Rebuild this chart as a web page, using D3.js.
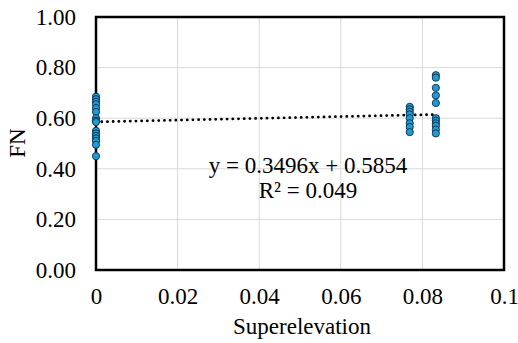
<!DOCTYPE html>
<html><head><meta charset="utf-8">
<script src="https://cdn.jsdelivr.net/npm/d3@7"></script>
<style>body{margin:0;background:#fff}svg{display:block}text{font-family:'Liberation Serif','Times New Roman',serif}</style>
</head><body>
<svg id="c" width="518" height="343"></svg>
<script>
const xGroups = [0, 0.0769, 0.0833];
const fn0 = [0.685, 0.675, 0.665, 0.655, 0.64, 0.625, 0.60, 0.59, 0.585, 0.55, 0.54, 0.53, 0.52, 0.51, 0.495, 0.45];
const fn1 = [0.645, 0.635, 0.625, 0.615, 0.60, 0.58, 0.565, 0.545];
const fn2 = [0.77, 0.76, 0.72, 0.69, 0.66, 0.60, 0.59, 0.58, 0.57, 0.555, 0.54];
const xTicks = [0, 0.02, 0.04, 0.06, 0.08, 0.1];
const xTickLabels = ["0", "0.02", "0.04", "0.06", "0.08", "0.1"];
const yTicks = [0, 0.2, 0.4, 0.6, 0.8, 1.0];
const yTickLabels = ["0.00", "0.20", "0.40", "0.60", "0.80", "1.00"];
const slope = 0.3496, intercept = 0.5854;
const eqText = "y = 0.3496x + 0.5854";
const r2Text = "R² = 0.049";

const svg = d3.select("#c");
const font = "'Liberation Serif','Times New Roman',serif";
const fs = 23;
const x = d3.scaleLinear().domain([0, 0.1]).range([96, 504]);
const y = d3.scaleLinear().domain([0, 1]).range([270, 17]);

// gridlines
svg.append("g").selectAll("line").data(yTicks.slice(1, -1)).join("line")
  .attr("x1", x(0)).attr("x2", x(0.1)).attr("y1", d => y(d)).attr("y2", d => y(d))
  .attr("stroke", "#d9d9d9").attr("stroke-width", 1);
svg.append("g").selectAll("line").data(xTicks.slice(1, -1)).join("line")
  .attr("y1", y(0)).attr("y2", y(1)).attr("x1", d => x(d)).attr("x2", d => x(d))
  .attr("stroke", "#d9d9d9").attr("stroke-width", 1);

// axes via d3
const yAxis = d3.axisLeft(y).tickValues(yTicks).tickFormat((d, i) => yTickLabels[i]).tickSize(0).tickPadding(20);
const gy = svg.append("g").attr("transform", `translate(${x(0)},0)`).call(yAxis)
  .attr("font-family", font).attr("font-size", fs);
gy.select(".domain").remove();
gy.selectAll("text").style("font-family", font).style("font-size", fs + "px").attr("fill", "#000");

const xAxis = d3.axisBottom(x).tickValues(xTicks).tickFormat((d, i) => xTickLabels[i]).tickSize(0).tickPadding(18);
const gx = svg.append("g").attr("transform", `translate(0,${y(0)})`).call(xAxis)
  .attr("font-family", font).attr("font-size", fs);
gx.select(".domain").remove();
gx.selectAll("text").style("font-family", font).style("font-size", fs + "px").attr("fill", "#000");

// border
svg.append("rect").attr("x", x(0)).attr("y", y(1)).attr("width", x(0.1) - x(0)).attr("height", y(0) - y(1))
  .attr("fill", "none").attr("stroke", "#000").attr("stroke-width", 2.5);

// trendline
const xMax = xGroups[2];
svg.append("line")
  .attr("x1", x(0)).attr("y1", y(intercept))
  .attr("x2", x(xMax)).attr("y2", y(slope * xMax + intercept))
  .attr("stroke", "#000").attr("stroke-width", 2.8)
  .attr("stroke-dasharray", "0.1 5.6").attr("stroke-linecap", "round");

// points
const pts = [];
[fn0, fn1, fn2].forEach((arr, i) => arr.forEach(v => pts.push({x: xGroups[i], y: v})));
svg.append("g").selectAll("circle").data(pts).join("circle")
  .attr("cx", d => x(d.x)).attr("cy", d => y(d.y)).attr("r", 3.6)
  .attr("fill", "#1e9ad6").attr("stroke", "#0b2e4a").attr("stroke-width", 0.9);

// equation
svg.append("text").attr("x", 308).attr("y", 173).attr("text-anchor", "middle")
  .style("font-family", font).style("font-size", fs + "px").text(eqText);
svg.append("text").attr("x", 308).attr("y", 198).attr("text-anchor", "middle")
  .style("font-family", font).style("font-size", fs + "px").text(r2Text);

// axis titles
svg.append("text").attr("x", 302).attr("y", 334).attr("text-anchor", "middle")
  .style("font-family", font).style("font-size", fs + "px").text("Superelevation");
svg.append("text").attr("transform", "translate(25,143) rotate(-90)").attr("text-anchor", "middle")
  .style("font-family", font).style("font-size", fs + "px").text("FN");
</script>
</body></html>
